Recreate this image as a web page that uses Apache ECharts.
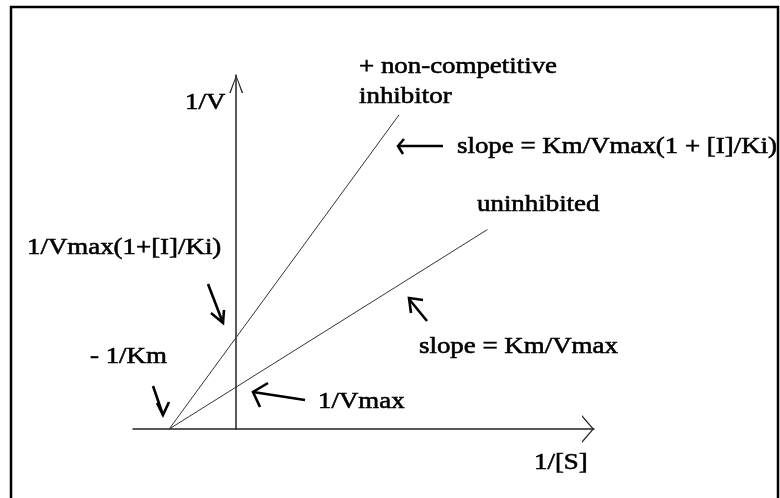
<!DOCTYPE html>
<html>
<head>
<meta charset="utf-8">
<script src="https://cdn.jsdelivr.net/npm/echarts@6/dist/echarts.min.js"></script>
<style>
  html, body { margin: 0; padding: 0; background: #fff; }
  #chart { width: 780px; height: 498px; }
</style>
</head>
<body>
<div id="chart"></div>
<script>
// Lineweaver-Burk plot, units: -1/Km = -1, 1/Vmax = 1
var uninhibitedX = [-1, 3.75];
var uninhibitedY = [0, 4.75];
var inhibitedX = [-1, 2.43];
var inhibitedY = [0, 7.48];

var xRange = [-1.54, 5.34];
var yRange = [0, 8.43];

function pairs(xs, ys) {
    return xs.map(function (x, i) { return [x, ys[i]]; });
}

var FONT = '24px "Liberation Serif", "Times New Roman", serif';
var SX = 1.12;

// annotation texts: [text, left, middle]
var notes = [
    ['1/V', 185, 103],
    ['+ non-competitive', 359, 67],
    ['inhibitor', 359, 97],
    ['slope = Km/Vmax(1 + [I]/Ki)', 457, 147],
    ['uninhibited', 477, 205],
    ['1/Vmax(1+[I]/Ki)', 27, 248],
    ['slope = Km/Vmax', 419, 347],
    ['- 1/Km', 90, 357],
    ['1/Vmax', 318, 402],
    ['1/[S]', 534, 463]
];

// hand drawn arrows: shaft and head
var arrows = [
    { shaft: [[443, 146], [398, 146]], head: [[404, 139], [398, 146], [403, 154]] },
    { shaft: [[208, 284], [223, 323]], head: [[211, 313], [223, 323], [224, 310]] },
    { shaft: [[427, 321], [409, 299]], head: [[423, 300], [409, 298], [411, 313]] },
    { shaft: [[153, 386], [163, 415]], head: [[157, 403], [163, 415], [169, 402]] },
    { shaft: [[305, 400], [253, 392]], head: [[268, 383], [253, 392], [260, 407]] }
];

var graphics = [{
    type: 'rect',
    shape: { x: 11, y: 7, width: 767, height: 520 },
    style: { fill: 'none', stroke: '#000', lineWidth: 2.5 },
    z: 0
}];

notes.forEach(function (n) {
    graphics.push({
        type: 'text',
        x: n[1], y: n[2], scaleX: SX,
        style: {
            text: n[0], font: FONT, fill: '#000',
            stroke: '#000', lineWidth: 0.6,
            textVerticalAlign: 'middle', verticalAlign: 'middle'
        },
        z: 10
    });
});

arrows.forEach(function (a) {
    graphics.push({
        type: 'polyline', shape: { points: a.shaft },
        style: { stroke: '#000', lineWidth: 2.6, fill: 'none' }, z: 10
    });
    graphics.push({
        type: 'polyline', shape: { points: a.head },
        style: { stroke: '#000', lineWidth: 2.6, fill: 'none' }, z: 10
    });
});

var myChart = echarts.init(document.getElementById('chart'));

var option = {
    backgroundColor: '#fff',
    animation: false,
    grid: { left: 133, right: 186, top: 75, bottom: 69 },
    xAxis: {
        type: 'value', min: xRange[0], max: xRange[1],
        axisLine: {
            show: true,
            symbol: ['none', 'path://M14,0 L28,12 L26,12 L14,1.6 L2,12 L0,12 Z'],
            symbolSize: [28, 12],
            symbolOffset: [0, -6],
            lineStyle: { color: '#222', width: 1.5 }
        },
        axisTick: { show: false },
        axisLabel: { show: false },
        splitLine: { show: false }
    },
    yAxis: {
        type: 'value', min: yRange[0], max: yRange[1],
        axisLine: {
            show: true, onZero: true,
            symbol: ['none', 'path://M7,0 L14,18 L12.5,18 L7,2.2 L1.5,18 L0,18 Z'],
            symbolSize: [14, 18],
            symbolOffset: [0, -9],
            lineStyle: { color: '#222', width: 1.5 }
        },
        axisTick: { show: false },
        axisLabel: { show: false },
        splitLine: { show: false }
    },
    series: [
        {
            name: 'uninhibited', type: 'line', symbol: 'none',
            data: pairs(uninhibitedX, uninhibitedY),
            lineStyle: { color: '#333', width: 1 }
        },
        {
            name: '+ non-competitive inhibitor', type: 'line', symbol: 'none',
            data: pairs(inhibitedX, inhibitedY),
            lineStyle: { color: '#333', width: 1 }
        }
    ],
    graphic: graphics
};

myChart.setOption(option);
</script>
</body>
</html>
